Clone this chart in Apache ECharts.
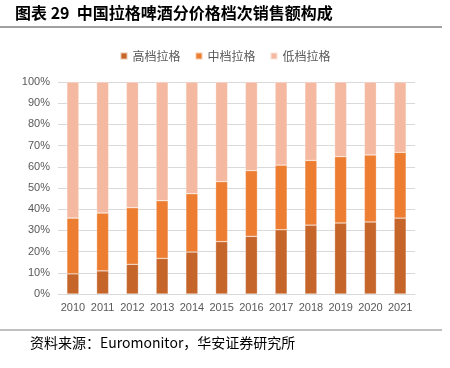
<!DOCTYPE html>
<html><head><meta charset="utf-8">
<script src="https://cdn.jsdelivr.net/npm/echarts@6/dist/echarts.min.js"></script>
<style>html,body{margin:0;padding:0;background:#fff}#c{width:450px;height:368px}</style>
</head><body><div id="c"></div>
<script>
var categories = ['2010','2011','2012','2013','2014','2015','2016','2017','2018','2019','2020','2021'];
var highEnd = [9.5, 10.9, 14.0, 16.8, 19.8, 24.7, 27.2, 30.3, 32.5, 33.5, 34.0, 35.8];
var midEnd  = [26.3, 27.3, 26.7, 27.2, 27.5, 28.3, 31.0, 30.5, 30.5, 31.3, 31.6, 31.0];
var lowEnd  = [64.2, 61.8, 59.3, 56.0, 52.7, 47.0, 41.8, 39.2, 37.0, 35.2, 34.4, 33.2];
var seriesNames = ['高档拉格', '中档拉格', '低档拉格'];
var colors = ['#C5652A', '#ED7D31', '#F4B9A0'];

var chart = echarts.init(document.getElementById('c'), null, {renderer:'canvas'});
var font = '"Noto Sans CJK SC", "Liberation Sans", sans-serif';
function mk(i, data){
  return {name: seriesNames[i], type:'bar', stack:'t', data:data, barWidth:12,
    itemStyle:{color:colors[i], borderColor:'rgba(255,255,255,0.6)', borderWidth:0.5}};
}
chart.setOption({
  animation:false,
  textStyle:{fontFamily:font},
  graphic:[
    {type:'text', left:15, top:5, style:{text:'图表 29  中国拉格啤酒分价格档次销售额构成', font:'bold 16px "Noto Sans CJK SC", sans-serif', fill:'#000'}},
    {type:'line', shape:{x1:0,y1:27,x2:442,y2:27}, style:{stroke:'#404040', lineWidth:1}},
    {type:'line', shape:{x1:0,y1:330,x2:442,y2:330}, style:{stroke:'#808080', lineWidth:1}},
    {type:'text', left:30, top:336, style:{text:'资料来源：Euromonitor，华安证券研究所', font:'14px "Noto Sans CJK SC", sans-serif', fill:'#000'}}
  ],
  legend:{top:45, left:'center', itemWidth:7, itemHeight:7, itemGap:14, icon:'rect',
    textStyle:{color:'#595959', fontSize:12, fontFamily:font}, data:seriesNames},
  grid:{left:58, right:35, top:82, bottom:74, containLabel:false},
  xAxis:{type:'category', data:categories, axisTick:{show:false},
    axisLine:{lineStyle:{color:'#D9D9D9'}},
    axisLabel:{interval:0, color:'#595959', fontSize:11, margin:8, fontFamily:'"Liberation Sans", sans-serif'}},
  yAxis:{type:'value', min:0, max:100, interval:10,
    axisLabel:{formatter:'{value}%', color:'#595959', fontSize:11, margin:8, fontFamily:'"Liberation Sans", sans-serif'},
    splitLine:{lineStyle:{color:'#D9D9D9'}}, axisLine:{show:false}, axisTick:{show:false}},
  series:[mk(0, highEnd), mk(1, midEnd), mk(2, lowEnd)]
});
</script></body></html>
